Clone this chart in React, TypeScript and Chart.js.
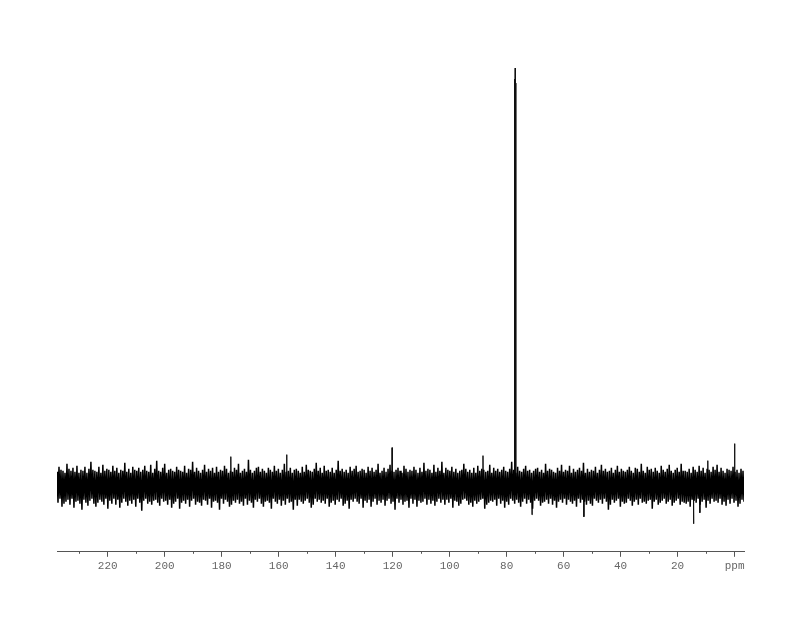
import React, { useEffect, useRef } from "react";
import { Chart, registerables } from "chart.js";

Chart.register(...registerables);

// ppm range of the spectrum (axis runs right-to-left)
const PPM_START = 237.8;
const PPM_END = -3.3;
const TICK_VALUES = [0, 10, 20, 30, 40, 50, 60, 70, 80, 90, 100, 110, 120, 130, 140, 150, 160, 170, 180, 190, 200, 210, 220, 230];

// baseline noise, read as an envelope from the picture (uniform ppm grid)
const NOISE = [
  14,-17,19,-13,16,-21,15,-18,13,-16,22,-14,17,-19,15,-13,18,-22,14,-16,20,-15,13,-18,16,-24,15,-14,19,-17,
  13,-20,17,-15,24,-13,16,-18,15,-21,14,-17,19,-14,13,-16,21,-19,15,-13,17,-23,16,-15,14,-18,20,-13,15,-19,
  18,-14,13,-22,16,-17,15,-13,23,-16,14,-20,17,-15,13,-18,19,-14,16,-21,15,-13,18,-17,14,-25,16,-15,20,-13,
  15,-18,14,-16,21,-19,13,-15,17,-14,25,-17,15,-20,14,-13,18,-16,22,-15,13,-19,16,-14,17,-22,15,-18,14,-16,
  19,-13,16,-23,15,-17,14,-15,20,-18,13,-14,17,-21,16,-15,24,-13,14,-19,18,-16,15,-17,13,-20,16,-14,21,-15,
  14,-19,17,-13,15,-22,18,-16,13,-15,19,-17,14,-24,16,-13,15,-18,20,-14,17,-16,13,-21,15,-19,14,-15,18,-17,
  16,-14,22,-18,13,-16,15,-20,17,-13,14,-19,26,-15,16,-17,13,-22,15,-14,18,-16,19,-13,14,-18,17,-21,15,-16,
  13,-15,18,-17,16,-23,14,-13,20,-16,15,-18,17,-14,13,-20,16,-15,22,-19,14,-13,15,-17,18,-16,13,-24,16,-14,
  17,-20,15,-14,13,-16,19,-18,14,-15,21,-13,16,-17,15,-22,14,-19,17,-13,23,-16,15,-14,18,-17,13,-15,20,-18,
  15,-13,16,-21,14,-17,18,-15,13,-19,16,-14,25,-16,15,-13,17,-20,14,-18,16,-15,13,-23,19,-14,15,-16,17,-13,
  20,-16,14,-18,15,-13,17,-22,16,-15,13,-17,19,-14,15,-21,18,-16,14,-13,16,-19,22,-15,13,-17,15,-14,18,-20,
  14,-15,17,-13,21,-18,15,-16,14,-24,16,-13,18,-17,15,-14,13,-19,20,-16,17,-15,14,-22,16,-13,15,-18,19,-14,
  16,-21,13,-15,18,-17,14,-16,23,-13,15,-19,17,-14,16,-18,13,-15,21,-20,14,-16,18,-13,15,-17,24,-14,13,-19,
  18,-14,16,-17,15,-13,19,-22,14,-15,17,-16,13,-20,15,-18,16,-14,22,-13,17,-15,14,-19,16,-17,13,-21,18,-15,
  13,-18,20,-16,15,-14,17,-13,16,-23,14,-19,15,-17,21,-15,13,-16,18,-14,15,-20,17,-13,14,-18,16,-15,19,-22,
  15,-16,14,-19,17,-13,24,-15,16,-18,13,-14,19,-17,15,-21,14,-16,17,-13,20,-18,15,-14,16,-17,13,-23,15,-15,
  17,-13,18,-15,14,-20,16,-17,13,-16,22,-14,15,-18,17,-13,16,-19,14,-15,13,-22,18,-16,15,-14,21,-17,14,-13,
  16,-19,15,-14,20,-16,13,-18,17,-15,14,-21,16,-13,18,-17,15,-14,23,-16,13,-19,17,-15,14,-18,16,-20,15,-13,
  19,-15,13,-17,16,-14,21,-18,15,-13,17,-16,14,-24,15,-19,18,-14,13,-17,16,-15,20,-13,14,-21,17,-16,15,-18,
  14,-17,16,-13,19,-15,15,-20,13,-16,18,-14,17,-19,14,-13,22,-17,15,-16,13,-18,19,-15,16,-14,17,-23,14,-16,
  18,-14,15,-19,13,-17,20,-15,16,-13,14,-18,17,-16,21,-14,15,-20,13,-17,16,-15,18,-13,14,-19,22,-16,15,-17,
  15,-18,14,-16,17,-21,13,-14,19,-15,16,-17,14,-13,20,-19,15,-16,18,-14,13,-22,17,-15,16,-18,14,-13,19,-16,
  16,-15,21,-17,14,-13,18,-19,15,-16,13,-20,17,-14,16,-18,15,-13,19,-17,14,-15,16,-21,13,-18,17,-14,15,-16
];

// individual signals and spikes: position (ppm) and intensity
const PEAK_PPM = [176.8, 157.2, 120.2, 88.3, 77.25, 77.0, 76.8, 71.1, 52.9, 14.4, 12.2, 9.4, 0.0];
const PEAK_INT = [29, 31, 38, 30, 406, 417, 402, -29, -31, -38, -27, 25, 42];

export default function App() {
  const ref = useRef<HTMLCanvasElement | null>(null);

  useEffect(() => {
    if (!ref.current) return;
    const step = (PPM_START - PPM_END) / (NOISE.length - 1);
    const noiseData = NOISE.map((v, i) => ({ x: PPM_START - i * step, y: v }));
    const peakData: { x: number; y: number | null }[] = [];
    PEAK_PPM.forEach((p, i) => {
      peakData.push({ x: p + 0.08, y: 0 });
      peakData.push({ x: p, y: PEAK_INT[i] });
      peakData.push({ x: p - 0.08, y: 0 });
      peakData.push({ x: p - 0.09, y: null });
    });

    const minorTicks = {
      id: "minorTicks",
      afterDraw(chart: any) {
        const s = chart.scales.x;
        const ctx = chart.ctx;
        ctx.save();
        ctx.strokeStyle = "#555";
        ctx.lineWidth = 1;
        TICK_VALUES.forEach((v) => {
          if (v % 20 !== 0) {
            const px = Math.round(s.getPixelForValue(v)) + 0.5;
            ctx.beginPath();
            ctx.moveTo(px, s.top);
            ctx.lineTo(px, s.top + 2);
            ctx.stroke();
          }
        });
        ctx.restore();
      },
    };

    const chart = new Chart(ref.current, {
      type: "line",
      data: {
        datasets: [
          {
            data: noiseData,
            borderColor: "#000",
            borderWidth: 1.5,
            pointRadius: 0,
            tension: 0,
            fill: false,
          },
          {
            data: peakData,
            borderColor: "#111",
            borderWidth: 1,
            pointRadius: 0,
            tension: 0,
            fill: false,
            spanGaps: false,
          },
        ],
      },
      options: {
        animation: false,
        responsive: true,
        maintainAspectRatio: false,
        layout: { padding: { left: 57, right: 56, top: 40, bottom: 42 } },
        plugins: { legend: { display: false }, tooltip: { enabled: false } },
        scales: {
          x: {
            type: "linear",
            reverse: true,
            min: PPM_END,
            max: PPM_START,
            afterBuildTicks: (scale: any) => {
              scale.ticks = TICK_VALUES.map((v) => ({ value: v }));
            },
            grid: {
              drawOnChartArea: false,
              drawTicks: true,
              tickLength: 5,
              tickColor: (ctx: any) =>
                ctx.tick && ctx.tick.value % 20 === 0 ? "#555" : "rgba(0,0,0,0)",
            },
            border: { display: true, color: "#555", width: 1 },
            ticks: {
              autoSkip: false,
              maxRotation: 0,
              padding: 3,
              color: "#666",
              font: { family: "'Liberation Mono', monospace", size: 11 },
              callback: (v: any) => {
                const n = Number(v);
                if (n % 20 !== 0) return "";
                return n === 0 ? "ppm" : String(n);
              },
            },
          },
          y: {
            display: false,
            min: -66,
            max: 445,
          },
        },
      },
      plugins: [minorTicks],
    });
    return () => chart.destroy();
  }, []);

  return (
    <div style={{ position: "absolute", left: 0, top: 0, width: 800, height: 618, background: "#fff" }}>
      <canvas ref={ref} />
    </div>
  );
}
